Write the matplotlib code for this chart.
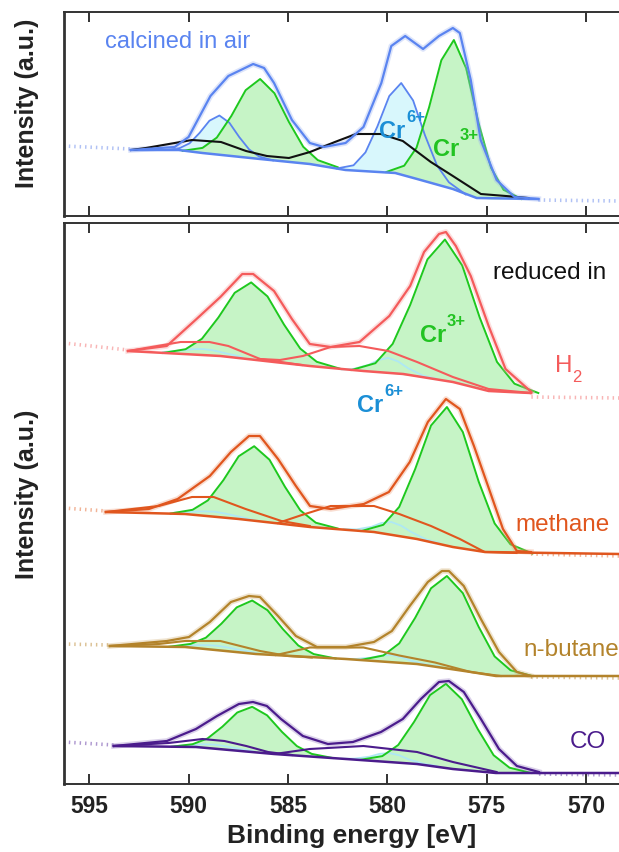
import numpy as np
import matplotlib
matplotlib.use("Agg")
import matplotlib.pyplot as plt

plt.rcParams['font.family'] = ['Liberation Sans', 'DejaVu Sans']

# ---------------- calcined in air (top panel) ----------------
air_env_E = [592.9, 590.7, 590.0, 588.9, 588.0, 586.75, 586.2, 585.7, 584.8, 583.9, 583.2, 582.1, 581.2,
             580.3, 579.8, 579.1, 578.2, 577.4, 576.7, 576.35, 575.8, 575.3, 574.5, 573.6, 572.4]
air_env_I = [65, 68, 78, 119, 139, 151, 147, 132, 95, 72, 68, 72, 88,
             132, 169, 179, 166, 179, 187, 182, 135, 75, 35, 18, 16]
air_bg_E = [592.9, 590.5, 589.3, 586.4, 583.9, 582.1, 579.6, 578.5, 576.7, 575.5, 572.4]
air_bg_I = [65, 65, 62, 56, 51, 45, 42, 36, 26, 17, 16]
air_cr3a_E = [590.3, 589.3, 588.58, 587.85, 587.13, 586.4, 585.68, 584.95, 584.23, 583.5, 582.5]
air_cr3a_base = [64.2, 62.1, 60.6, 59.0, 57.5, 56.0, 54.5, 53.0, 51.4, 49.9, 47.8]
air_cr3a_top = [64.2, 67.1, 77.4, 99.0, 124.8, 136.0, 121.8, 93.0, 68.2, 54.9, 47.8]
air_cr3b_E = [580.05, 579.15, 578.53, 577.9, 577.28, 576.65, 576.03, 575.4, 574.78, 574.15, 573.25]
air_cr3b_base = [43, 40, 36, 33, 29.5, 26, 21.5, 17, 16, 16, 16]
air_cr3b_top = [43, 49.3, 67.3, 107.5, 154.8, 175, 146.8, 91.5, 47.3, 25.3, 16]
air_cr6a_E = [591.15, 590.45, 589.95, 589.45, 588.95, 588.45, 587.95, 587.45, 586.95, 586.45, 585.75]
air_cr6a_base = [65, 64.5, 63.5, 62.5, 61.5, 60.5, 59.5, 58.4, 57.3, 56.1, 54.6]
air_cr6a_top = [65, 66.9, 71.7, 82, 94.3, 99.5, 92.3, 77.9, 65.5, 58.5, 54.6]
air_cr6b_E = [582.55, 581.7, 581.1, 580.5, 579.9, 579.3, 578.7, 578.1, 577.5, 576.9, 576.05]
air_cr6b_base = [46.5, 44.5, 43.5, 43, 42.5, 41, 38, 34, 30.5, 27, 20.5]
air_cr6b_top = [46.5, 49.7, 62.6, 88.5, 119, 132, 114.5, 79.5, 49.6, 32.7, 20.5]
air_black_E = [592.9, 592.15, 589.83, 588.37, 587.11, 586.06, 584.95, 583.89, 582.64, 581.58, 580.32,
               579.22, 577.81, 576.7, 575.29, 574.03, 572.9]
air_black_I = [65, 67, 75, 73, 64, 59, 57, 63, 73, 81, 81, 74, 53, 39, 21, 19, 17]
air_tailL_E, air_tailL_I = [596.3, 592.9], [69, 66]
air_tailR_E, air_tailR_I = [572.4, 568.3], [15, 14]

# ---------------- reduced in H2 ----------------
h2_env_E = [593.05, 591.1, 589.6, 588.4, 587.3, 586.75, 585.7, 584.8, 583.9, 582.85, 581.4, 579.9, 578.85,
            578.15, 577.4, 577.05, 576.55, 575.8, 574.9, 574.05, 572.75]
h2_env_I = [448, 453, 480, 502, 525, 525, 508, 480, 455, 452, 457, 483, 513,
            547, 565, 567, 553, 523, 473, 430, 407]
h2_bg_E = [593.05, 588.4, 583.9, 581.2, 579.2, 576.7, 574.9, 572.8]
h2_bg_I = [448, 443, 433, 428, 425, 417, 408, 406]
h2_cr3a_E = [591.3, 590.15, 589.33, 588.5, 587.68, 586.85, 586.03, 585.2, 584.38, 583.55, 582.4]
h2_cr3a_base = [446, 445, 444, 443, 441.4, 439.6, 437.8, 436, 434.2, 432.4, 430.4]
h2_cr3a_top = [446, 449.8, 460.2, 481.5, 506.2, 516.6, 502.6, 474.5, 450.4, 437.2, 430.4]
h2_cr3b_E = [581.8, 580.6, 579.73, 578.85, 577.98, 577.1, 576.23, 575.35, 574.48, 573.6, 572.4]
h2_cr3b_base = [429, 427, 425.5, 423.5, 421, 418.5, 415, 411, 407.5, 406.5, 406]
h2_cr3b_top = [429, 435.8, 455.1, 494, 539.6, 559.5, 533.6, 481.5, 437.1, 415.3, 406]
h2_cr6a_E = [591.3, 590.3, 589.8, 589.3, 588.8, 588.3, 587.3]
h2_cr6a_base = [446, 445, 444.5, 444, 443.5, 442.8, 441]
h2_cr6a_top = [446.9, 448.7, 449.8, 450, 448.8, 446.5, 441.9]
h2_cr6b_E = [582.3, 581.7, 580.95, 580.45, 579.95, 579.45, 578.95, 578.2, 577.6]
h2_cr6b_base = [429.5, 428.8, 427.7, 426.9, 426.1, 425.4, 424.3, 422, 420.5]
h2_cr6b_top = [429.5, 430.1, 434.1, 439.0, 441.1, 437.5, 430.7, 423.3, 420.5]
h2_sat1_E = [593.05, 590.4, 588.95, 588.0, 586.4, 585.35, 584.3]
h2_sat1_I = [448, 457, 457, 453, 440, 437, 434]
h2_sat2_E = [586.4, 585.4, 584.25, 582.85, 581.4, 579.95, 578.5, 576.7, 574.9, 572.75]
h2_sat2_I = [440, 439, 443, 452, 453, 448, 437, 422, 410, 406]
h2_tailL_E, h2_tailL_I = [596.3, 593.05], [456, 449]
h2_tailR_E, h2_tailR_I = [572.75, 568.3], [402, 401]

# ---------------- reduced in methane ----------------
ch4_env_E = [594.16, 592.0, 590.55, 588.93, 587.87, 586.96, 586.41, 585.5, 584.6, 583.89, 582.84, 581.18,
             579.92, 578.87, 577.96, 577.05, 576.35, 575.64, 574.88, 574.18, 573.48, 572.77]
ch4_env_I = [287, 290, 300, 323, 347, 363, 363, 340, 313, 293, 290, 295,
             307, 337, 377, 400, 390, 353, 310, 270, 248, 247]
ch4_bg_E = [594.16, 590.18, 587.47, 583.89, 580.67, 578.51, 576.7, 575.09, 568.3]
ch4_bg_I = [287, 285, 280, 272, 267, 260, 252, 247, 245]
ch4_cr3a_E = [590.9, 589.8, 589.03, 588.25, 587.48, 586.7, 585.93, 585.15, 584.38, 583.6, 582.5]
ch4_cr3a_base = [285.5, 284.5, 283, 281.5, 280, 278.3, 276.6, 274.9, 273.1, 271.6, 270.5]
ch4_cr3a_top = [285.5, 289.2, 298.6, 318.8, 342.7, 352.8, 339.3, 312.2, 288.7, 276.3, 270.5]
ch4_cr3b_E = [581.3, 580.2, 579.4, 578.6, 577.8, 577.0, 576.2, 575.4, 574.6, 573.8, 572.7]
ch4_cr3b_base = [268, 265.5, 263, 260.5, 257, 253.5, 250.5, 248, 246.5, 246, 245.5]
ch4_cr3b_top = [268, 274.2, 292.1, 329.8, 373.5, 392, 367, 317.3, 275.6, 254.7, 245.5]
ch4_cr6a_E = [590.7, 589.7, 589.2, 588.7, 588.2, 587.7, 586.7]
ch4_cr6a_base = [285.7, 284.3, 283.2, 282.3, 281.2, 280.3, 278.3]
ch4_cr6a_top = [286.4, 287.4, 287.6, 287.3, 285.6, 283.4, 279]
ch4_cr6b_E = [582.2, 581.55, 580.8, 580.3, 579.8, 579.3, 578.8, 578.05, 577.4]
ch4_cr6b_base = [270, 268.5, 266.7, 265.5, 264, 262.8, 261.5, 258.5, 256]
ch4_cr6b_top = [270, 269.6, 272.2, 276.0, 277, 273.3, 267, 259.6, 256]
ch4_sat1_E = [594.16, 591.5, 589.83, 588.74, 587.13, 585.33, 583.9]
ch4_sat1_I = [287, 293, 302, 302, 290, 278, 273]
ch4_sat2_E = [585.5, 584.3, 582.85, 580.67, 579.4, 577.8, 576.35, 575.1, 573.5]
ch4_sat2_I = [276, 284, 293, 293, 285, 273, 260, 247, 246]
ch4_tailL_E, ch4_tailL_I = [596.3, 594.16], [291, 288]
ch4_tailR_E, ch4_tailR_I = [572.77, 568.3], [245, 243]

# ---------------- reduced in n-butane ----------------
c4_env_E = [593.96, 591.09, 589.98, 588.93, 587.87, 586.96, 586.41, 585.5, 584.6, 583.54, 582.08, 580.67,
            579.77, 578.87, 577.96, 577.25, 576.9, 576.15, 575.29, 574.38, 573.48, 572.77]
c4_env_I = [153, 158, 162, 177, 197, 203, 202, 183, 163, 152, 152, 157,
            168, 193, 217, 228, 228, 213, 180, 147, 127, 123]
c4_bg_E = [593.96, 590.18, 586.61, 582.08, 578.51, 575.79, 574.53, 568.3]
c4_bg_I = [153, 152, 145, 140, 135, 127, 123, 123]
c4_cr3a_E = [591.0, 589.9, 589.13, 588.35, 587.58, 586.8, 586.03, 585.25, 584.48, 583.7, 582.6]
c4_cr3a_base = [152.2, 151.8, 150.2, 148.8, 147, 145.5, 144.2, 143.3, 142.4, 141.6, 140.5]
c4_cr3a_top = [152.2, 155.1, 161.3, 175.3, 191.6, 198.5, 188.8, 169.8, 153.5, 144.9, 140.5]
c4_cr3b_E = [581.3, 580.2, 579.4, 578.6, 577.8, 577.0, 576.2, 575.4, 574.6, 573.8, 572.7]
c4_cr3b_base = [139.2, 137.7, 136.3, 135.1, 133.3, 131, 128.5, 126.1, 123.3, 123, 123]
c4_cr3b_top = [139.2, 143.5, 155.6, 181.1, 210.7, 223, 205.9, 172.1, 142.6, 128.8, 123]
c4_cr6a_E = [590.6, 589.6, 589.1, 588.6, 588.1, 587.6, 586.6]
c4_cr6a_base = [152, 151.3, 150.3, 149.3, 148.3, 147.3, 145.4]
c4_cr6a_top = [152.6, 153.8, 153.8, 153.3, 151.8, 149.8, 146]
c4_cr6b_E = [582.2, 581.55, 580.8, 580.3, 579.8, 579.3, 578.8, 578.05, 577.4]
c4_cr6b_base = [140.2, 139.5, 138.4, 137.8, 137, 136.1, 135.3, 134, 132.6]
c4_cr6b_top = [140.2, 140.1, 141.4, 143.4, 144, 141.7, 138.3, 134.6, 132.6]
c4_sat1_E = [593.96, 591.5, 590.18, 588.4, 586.4, 585.0, 583.8]
c4_sat1_I = [153, 155, 158, 158, 148, 143, 141.5]
c4_sat2_E = [585.6, 583.9, 581.2, 579.4, 577.6, 575.8, 574.3]
c4_sat2_I = [144, 151.5, 151.5, 143.5, 136.5, 127, 123]
c4_tailL_E, c4_tailL_I = [596.3, 593.96], [155, 154]
c4_tailR_E, c4_tailR_I = [572.77, 568.3], [122, 121]

# ---------------- reduced in CO ----------------
co_env_E = [593.76, 591.09, 589.63, 588.57, 587.47, 586.76, 586.06, 585.35, 584.25, 582.99, 581.73, 580.32,
            579.22, 578.31, 577.4, 576.9, 576.15, 575.29, 574.38, 573.48, 572.37]
co_env_I = [53, 58, 70, 83, 95, 97, 93, 80, 63, 55, 57, 67,
            80, 100, 117, 118, 107, 80, 50, 33, 27]
co_bg_E = [593.76, 589.63, 585.7, 582.08, 578.51, 576.7, 574.53, 568.3]
co_bg_I = [53, 52, 45, 40, 35, 30, 26, 26]
co_cr3a_E = [590.85, 589.8, 589.05, 588.3, 587.55, 586.8, 586.05, 585.3, 584.55, 583.8, 582.75]
co_cr3a_base = [52.3, 52, 50.9, 49.5, 48.2, 46.7, 45.4, 44.3, 43.3, 42.3, 41]
co_cr3a_top = [52.3, 54.8, 60.5, 72.3, 86.5, 92.2, 83.7, 67.1, 52.9, 45.1, 41]
co_cr3b_E = [581.35, 580.25, 579.45, 578.65, 577.85, 577.05, 576.25, 575.45, 574.65, 573.85, 572.75]
co_cr3b_base = [39.2, 37.6, 36.4, 35.2, 33.3, 31.2, 29.2, 28, 26.2, 26, 26]
co_cr3b_top = [39.2, 42.9, 54, 77.2, 103.9, 115.2, 99.8, 70, 43.8, 31.3, 26]
co_cr6a_E = [590.7, 589.7, 589.2, 588.7, 588.2, 587.7, 586.7]
co_cr6a_base = [52.2, 51.9, 51.2, 50.4, 49.5, 48.6, 46.8]
co_cr6a_top = [52.8, 54.4, 54.7, 54.4, 53, 51.1, 47.4]
co_cr6b_E = [582.3, 581.65, 580.9, 580.4, 579.9, 579.4, 578.9, 578.15, 577.5]
co_cr6b_base = [40.3, 39.6, 38.5, 37.8, 37.0, 36.4, 35.6, 34.3, 33]
co_cr6b_top = [40.3, 40.4, 42.3, 45.1, 46, 43.7, 39.4, 35.1, 33]
co_sat1_E = [593.76, 591.0, 589.3, 588.2, 587.1, 586.0, 584.8]
co_sat1_I = [53, 56, 60, 58, 53, 47, 44]
co_sat2_E = [585.5, 583.9, 581.2, 579.4, 578.5, 576.7, 574.5]
co_sat2_I = [45.5, 50, 53, 49, 47, 37, 27]
co_tailL_E, co_tailL_I = [596.3, 593.76], [57, 54]
co_tailR_E, co_tailR_I = [572.37, 568.3], [25, 24]

xticks = [595, 590, 585, 580, 575, 570]

# ---------------- styling ----------------
C_AIR = '#5a84f0'
C_H2 = '#f45b5b'
C_CH4 = '#e0561e'
C_C4 = '#b3832b'
C_CO = '#4b1c8c'
G_FILL = '#c6f4c6'
G_EDGE = '#1ec81e'
CY_FILL = '#d8f7fc'
CY_EDGE = '#aee8f4'

W, H = 619, 853
fig = plt.figure(figsize=(W / 100, H / 100), dpi=100)
XL, XR = 596.27, 568.34
left = 64 / W
ax1 = fig.add_axes([left, (H - 217) / H, 1 - left, (217 - 13) / H])
ax2 = fig.add_axes([left, (H - 785) / H, 1 - left, (785 - 224) / H])


def comp(ax, E, base, top, fill, edge, lw=1.3, z=2):
    ax.fill_between(E, base, top, color=fill, lw=0, zorder=z)
    ax.plot(E, top, color=edge, lw=lw, zorder=z + 2)


def series(ax, color, halo, env, bg, cr3, cr6, sats, tails, cr6_edge):
    for (E, I) in tails:
        ax.plot(E, I, color=halo, lw=2.6, ls=(0, (0.4, 1.1)), zorder=1, alpha=0.8)
    for (E, b, t) in cr6:
        comp(ax, E, b, t, CY_FILL, cr6_edge, lw=1.3, z=2)
    for (E, b, t) in cr3:
        comp(ax, E, b, t, G_FILL, G_EDGE, lw=1.4, z=3)
    for (E, I) in sats:
        ax.plot(E, I, color=color, lw=1.5, zorder=6)
    ax.plot(bg[0], bg[1], color=color, lw=1.8, zorder=6)
    ax.plot(env[0], env[1], color=halo, lw=4.0, alpha=0.35, zorder=5)
    ax.plot(env[0], env[1], color=color, lw=1.6, zorder=7)


series(ax1, C_AIR, '#9db2f2', (air_env_E, air_env_I), (air_bg_E, air_bg_I),
       [(air_cr3a_E, air_cr3a_base, air_cr3a_top), (air_cr3b_E, air_cr3b_base, air_cr3b_top)],
       [(air_cr6a_E, air_cr6a_base, air_cr6a_top), (air_cr6b_E, air_cr6b_base, air_cr6b_top)],
       [], [(air_tailL_E, air_tailL_I), (air_tailR_E, air_tailR_I)], C_AIR)
ax1.plot(air_black_E, air_black_I, color='#111111', lw=1.5, zorder=6)

series(ax2, C_H2, '#f7a3a3', (h2_env_E, h2_env_I), (h2_bg_E, h2_bg_I),
       [(h2_cr3a_E, h2_cr3a_base, h2_cr3a_top), (h2_cr3b_E, h2_cr3b_base, h2_cr3b_top)],
       [(h2_cr6a_E, h2_cr6a_base, h2_cr6a_top), (h2_cr6b_E, h2_cr6b_base, h2_cr6b_top)],
       [(h2_sat1_E, h2_sat1_I), (h2_sat2_E, h2_sat2_I)],
       [(h2_tailL_E, h2_tailL_I), (h2_tailR_E, h2_tailR_I)], CY_EDGE)
series(ax2, C_CH4, '#eea07c', (ch4_env_E, ch4_env_I), (ch4_bg_E, ch4_bg_I),
       [(ch4_cr3a_E, ch4_cr3a_base, ch4_cr3a_top), (ch4_cr3b_E, ch4_cr3b_base, ch4_cr3b_top)],
       [(ch4_cr6a_E, ch4_cr6a_base, ch4_cr6a_top), (ch4_cr6b_E, ch4_cr6b_base, ch4_cr6b_top)],
       [(ch4_sat1_E, ch4_sat1_I), (ch4_sat2_E, ch4_sat2_I)],
       [(ch4_tailL_E, ch4_tailL_I), (ch4_tailR_E, ch4_tailR_I)], CY_EDGE)
series(ax2, C_C4, '#d3b27a', (c4_env_E, c4_env_I), (c4_bg_E, c4_bg_I),
       [(c4_cr3a_E, c4_cr3a_base, c4_cr3a_top), (c4_cr3b_E, c4_cr3b_base, c4_cr3b_top)],
       [(c4_cr6a_E, c4_cr6a_base, c4_cr6a_top), (c4_cr6b_E, c4_cr6b_base, c4_cr6b_top)],
       [(c4_sat1_E, c4_sat1_I), (c4_sat2_E, c4_sat2_I)],
       [(c4_tailL_E, c4_tailL_I), (c4_tailR_E, c4_tailR_I)], CY_EDGE)
series(ax2, C_CO, '#9a7fc4', (co_env_E, co_env_I), (co_bg_E, co_bg_I),
       [(co_cr3a_E, co_cr3a_base, co_cr3a_top), (co_cr3b_E, co_cr3b_base, co_cr3b_top)],
       [(co_cr6a_E, co_cr6a_base, co_cr6a_top), (co_cr6b_E, co_cr6b_base, co_cr6b_top)],
       [(co_sat1_E, co_sat1_I), (co_sat2_E, co_sat2_I)],
       [(co_tailL_E, co_tailL_I), (co_tailR_E, co_tailR_I)], CY_EDGE)

for ax, ylim, lab in [(ax1, (-1, 203), False), (ax2, (15, 576), True)]:
    ax.set_xlim(XL, XR)
    ax.set_ylim(*ylim)
    ax.set_xticks(xticks)
    ax.set_yticks([])
    ax.tick_params(axis='x', direction='in', length=7, width=1.3, top=True, bottom=True,
                   labelbottom=lab, labelsize=16.5, pad=7, colors='#222222')
    for lbl in ax.get_xticklabels():
        lbl.set_fontweight('bold')
    ax.spines['right'].set_visible(False)
    for s in ['left', 'top', 'bottom']:
        ax.spines[s].set_color('#333333')
        ax.spines[s].set_linewidth(1.4)
    ax.spines['left'].set_linewidth(2.0)


def ftext(x, y, s, **kw):
    fig.text(x / W, 1 - y / H, s, **kw)


ftext(27, 103, 'Intensity (a.u.)', rotation=90, fontsize=18, fontweight='bold', ha='center', va='center',
      color='#222222')
ftext(27, 494, 'Intensity (a.u.)', rotation=90, fontsize=18, fontweight='bold', ha='center', va='center',
      color='#222222')
ftext(352, 836, 'Binding energy [eV]', fontsize=19, fontweight='bold', ha='center', va='center',
      color='#222222')

ftext(105, 42, 'calcined in air', fontsize=17, color=C_AIR, ha='left', va='center')
ftext(493, 273, 'reduced in', fontsize=17.5, color='#111111', ha='left', va='center')
ftext(555, 366, 'H', fontsize=17.5, color=C_H2, ha='left', va='center')
ftext(572, 378, '2', fontsize=12, color=C_H2, ha='left', va='center')
ftext(515, 525, 'methane', fontsize=17.5, color=C_CH4, ha='left', va='center')
ftext(523, 650, 'n-butane', fontsize=17.5, color=C_C4, ha='left', va='center')
ftext(570, 742, 'CO', fontsize=17.5, color=C_CO, ha='left', va='center')

C6 = '#1b8fd6'
C3 = '#22c322'
for (x, y, sup, c) in [(379, 131, '6+', C6), (433, 150, '3+', C3), (420, 336, '3+', C3), (357, 406, '6+', C6)]:
    ftext(x, y, 'Cr', fontsize=17, fontweight='bold', color=c, ha='left', va='center')
    ftext(x + 27, y - 14, sup, fontsize=12, fontweight='bold', color=c, ha='left', va='center')

fig.savefig('out.png', dpi=100)
